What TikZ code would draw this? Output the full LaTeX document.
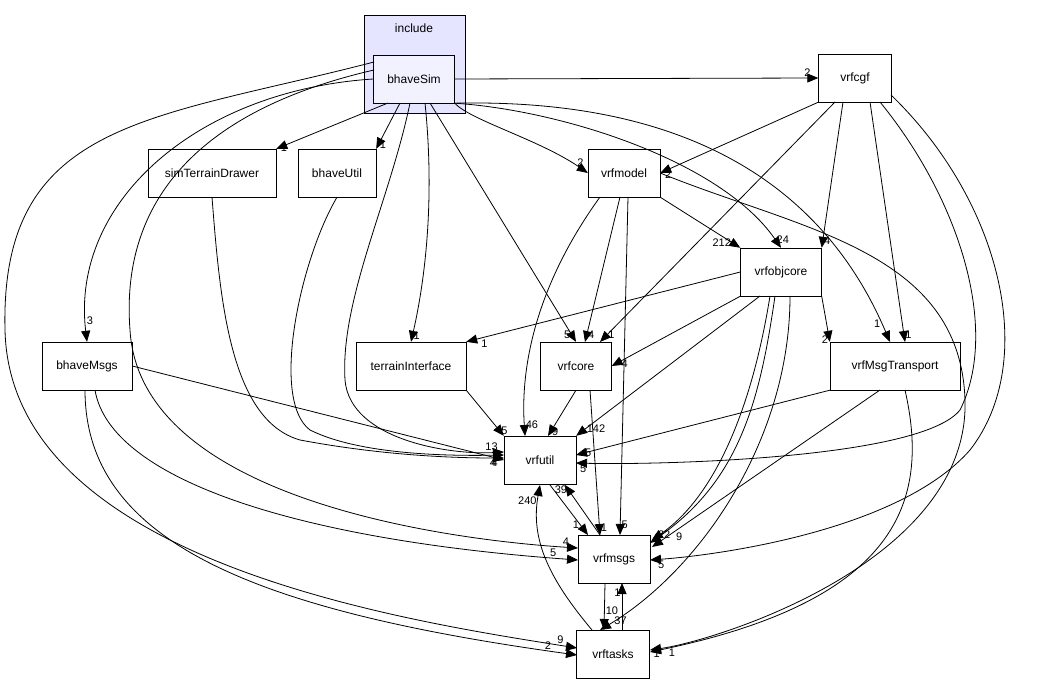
\documentclass[tikz,border=0pt]{standalone}
\usepackage{fontspec}
\setmainfont{Liberation Sans}
\usetikzlibrary{arrows.meta,positioning}
\tikzset{
  dirbox/.style={draw, minimum height=48pt, inner sep=2pt, font=\fontsize{12}{14}\selectfont},
  dep/.style={-{Triangle[length=11pt,width=9pt]}, line width=0.8pt},
  lbl/.style={font=\fontsize{11}{12}\selectfont, inner sep=1pt}
}
\begin{document}
\begin{tikzpicture}[x=1pt,y=-1pt]
\useasboundingbox (0,0) rectangle (1038,684);

% cluster
\draw[fill=blue!10!white, line width=0.8pt] (364,15) rectangle (465,113);
\node[font=\fontsize{12}{14}\selectfont] at (414,28) {include};

\node[dirbox, fill=blue!5!white, minimum width=81pt] (sim) at (414,79) {bhaveSim};
\node[dirbox, minimum width=73pt] (cgf) at (855,78) {vrfcgf};
\node[dirbox, minimum width=128pt] (drawer) at (212,173) {simTerrainDrawer};
\node[dirbox, minimum width=78pt] (butil) at (337,173) {bhaveUtil};
\node[dirbox, minimum width=72pt] (model) at (624,173) {vrfmodel};
\node[dirbox, minimum width=81pt] (objcore) at (781,272) {vrfobjcore};
\node[dirbox, minimum width=90pt] (bmsgs) at (87,366) {bhaveMsgs};
\node[dirbox, minimum width=110pt] (terrain) at (411,366) {terrainInterface};
\node[dirbox, minimum width=71pt] (core) at (576,366) {vrfcore};
\node[dirbox, minimum width=130pt] (transport) at (895,366) {vrfMsgTransport};
\node[dirbox, minimum width=72pt] (util) at (540,460) {vrfutil};
\node[dirbox, minimum width=72pt] (msgs) at (614,559) {vrfmsgs};
\node[dirbox, minimum width=73pt] (tasks) at (613,654) {vrftasks};

% from bhaveSim
\draw[dep] (sim.east) -- (cgf.west) node[lbl, pos=0.97, above] {2};
\draw[dep] (sim.south east) .. controls (470,120) and (540,140) .. (model.west) node[lbl, pos=0.95, above] {2};
\draw[dep] (sim.south east) .. controls (560,110) and (720,160) .. (objcore.north) node[lbl, pos=0.97, right] {24};
\draw[dep] (sim.south east) .. controls (600,100) and (800,130) .. (890,342) node[lbl, pos=0.97, left] {1};
\draw[dep] (388,103) -- (drawer.north east) node[lbl, pos=0.97, right] {1};
\draw[dep] (400,103) -- (butil.north east) node[lbl, pos=0.9, right] {1};
\draw[dep] (425,103) .. controls (435,200) and (425,280) .. (terrain.north) node[lbl, pos=0.97, right] {1};
\draw[dep] (430,103) -- (core.north) node[lbl, pos=0.97, left] {5};
\draw[dep] (410,103) .. controls (390,200) and (340,300) .. (345,380) .. controls (350,440) and (450,455) .. (504,452) node[lbl, pos=0.97, above left] {13};
\draw[dep] (sim.west) .. controls (200,90) and (70,200) .. (bmsgs.north) node[lbl, pos=0.95, right] {3};
\draw[dep] (374,70) .. controls (200,110) and (120,200) .. (130,330) .. controls (140,500) and (450,540) .. (578,548) node[lbl, pos=0.97, above] {4};
\draw[dep] (374,62) .. controls (150,120) and (0,120) .. (5,330) .. controls (10,560) and (400,620) .. (577,648) node[lbl, pos=0.97, above] {9};

% from vrfcgf
\draw[dep] (cgf.south west) -- (model.east) node[lbl, pos=0.95, below] {2};
\draw[dep] (843,102) -- (objcore.north east) node[lbl, pos=0.95, right] {4};
\draw[dep] (835,102) -- (600,342) node[lbl, pos=0.97, right] {1};
\draw[dep] (870,102) -- (905,342) node[lbl, pos=0.97, right] {1};
\draw[dep] (880,102) .. controls (960,200) and (1000,330) .. (960,410) .. controls (920,460) and (650,465) .. (576,463) node[lbl, pos=0.97, below] {5};
\draw[dep] (891,95) .. controls (1000,200) and (1040,360) .. (970,450) .. controls (900,530) and (720,555) .. (650,560) node[lbl, pos=0.95, below] {5};

\draw[dep] (drawer.south) .. controls (220,300) and (230,420) .. (300,440) .. controls (380,455) and (450,458) .. (504,458) node[lbl, pos=0.97, below left] {4};
\draw[dep] (butil.south) .. controls (300,260) and (270,400) .. (310,430) .. controls (360,455) and (450,456) .. (504,455);

% from vrfmodel
\draw[dep] (model.south east) -- (objcore.north west) node[lbl, pos=0.9, left] {212};
\draw[dep] (620,197) -- (585,342) node[lbl, pos=0.95, right] {4};
\draw[dep] (600,197) .. controls (540,280) and (520,360) .. (525,436) node[lbl, pos=0.95, right] {46};
\draw[dep] (628,197) -- (620,535) node[lbl, pos=0.97, right] {5};
\draw[dep] (model.east) .. controls (800,230) and (960,250) .. (965,400) .. controls (970,560) and (720,640) .. (650,650) node[lbl, pos=0.97, below] {1};

% from vrfobjcore
\draw[dep] (objcore.west) -- (terrain.north east) node[lbl, pos=0.95, below right] {1};
\draw[dep] (objcore.south west) -- (core.east) node[lbl, pos=0.9, below] {4};
\draw[dep] (760,296) -- (util.north east) node[lbl, pos=0.95, right] {142};
\draw[dep] (objcore.south east) -- (transport.north west) node[lbl, pos=0.95, left] {2};
\draw[dep] (775,296) .. controls (760,400) and (740,480) .. (650,543) node[lbl, pos=0.99, above right=1pt and 4pt] {22};
\draw[dep] (770,296) .. controls (750,420) and (710,500) .. (652,540);
\draw[dep] (790,296) .. controls (790,440) and (700,570) .. (600,630) node[lbl, pos=0.99, above right=2pt and 10pt] {37};

% lower
\draw[dep] (bmsgs.east) -- (504,460) node[lbl, pos=0.97, below] {4};
\draw[dep] (95,390) .. controls (110,480) and (300,540) .. (578,560) node[lbl, pos=0.97, above] {5};
\draw[dep] (85,390) .. controls (85,540) and (250,610) .. (577,655) node[lbl, pos=0.97, above] {2};
\draw[dep] (terrain.south east) -- (util.north west) node[lbl, pos=0.9, right] {5};
\draw[dep] (core.south) -- (548,436) node[lbl, pos=0.9, right] {9};
\draw[dep] (590,390) -- (600,535) node[lbl, pos=0.95, right] {1};
\draw[dep] (transport.south west) -- (576,455) node[lbl, pos=0.97, right] {5};
\draw[dep] (880,390) -- (652,547) node[lbl, pos=0.9, below right] {9};
\draw[dep] (905,390) .. controls (930,500) and (900,600) .. (650,652) node[lbl, pos=0.97, below] {1};
\draw[dep] (550,485) -- (588,535) node[lbl, pos=0.8, left] {1};
\draw[dep] (600,535) -- (565,485) node[lbl, pos=0.9, left] {39};
\draw[dep] (605,583) -- (604,630) node[lbl, pos=0.6, right] {10};
\draw[dep] (622,630) -- (622,583) node[lbl, pos=0.8, left] {1};
\draw[dep] (592,630) .. controls (550,580) and (530,540) .. (540,485) node[lbl, pos=0.9, left] {240};
\end{tikzpicture}
\end{document}
